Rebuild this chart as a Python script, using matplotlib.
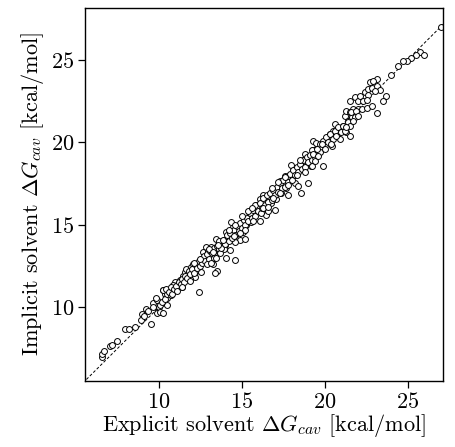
import matplotlib
matplotlib.use("Agg")
import matplotlib.pyplot as plt
import numpy as np

plt.rcParams['font.family'] = 'serif'
plt.rcParams['font.serif'] = ['cmr10', 'DejaVu Serif']
plt.rcParams['mathtext.fontset'] = 'cm'
plt.rcParams['axes.formatter.use_mathtext'] = True

# (explicit, implicit) cavitation free energies in kcal/mol
points_low = [
    (6.55, 6.98), (6.59, 7.17), (6.71, 7.33), (7.05, 7.67), (7.16, 7.71), (7.46, 7.97),
    (7.96, 8.66), (8.21, 8.66), (8.57, 8.81), (8.94, 9.21), (8.99, 9.58), (9.07, 9.44),
    (9.22, 9.88), (9.51, 9.01), (9.33, 9.77), (9.63, 10.27), (9.67, 10.03), (9.91, 10.44),
    (10.03, 10.03), (10.18, 10.24), (9.87, 9.68), (10.23, 11.02), (10.37, 10.78),
    (10.47, 10.53), (10.51, 10.12), (9.83, 10.53),
]
points_mid1 = [
    (10.05, 9.70), (10.25, 9.66), (10.05, 10.11), (10.19, 10.31), (10.35, 10.51),
    (10.51, 10.82), (10.25, 11.02), (10.66, 10.92), (10.45, 11.12), (10.75, 10.72),
    (10.95, 11.52), (10.85, 11.32), (11.16, 11.42), (11.36, 11.22), (11.26, 11.63),
    (11.45, 11.92), (11.56, 12.12), (11.76, 12.01), (11.66, 12.32), (11.95, 12.42),
    (12.16, 11.81), (11.85, 11.71), (12.06, 12.62), (12.35, 12.52), (12.40, 10.95),
    (12.56, 12.91), (12.66, 13.32), (12.85, 13.62), (12.96, 13.42), (13.15, 13.62),
    (12.75, 13.02), (12.96, 13.12), (13.26, 12.62), (13.46, 14.13), (13.52, 12.21),
    (13.36, 13.22), (13.15, 13.02), (12.26, 12.21), (12.56, 12.12),
    (10.6, 10.9), (10.7, 11.2), (10.8, 10.8), (10.9, 11.1), (11.0, 11.3), (11.1, 11.0),
    (11.2, 11.5), (11.3, 11.4), (11.4, 11.7), (11.5, 11.5), (11.6, 11.9), (11.7, 11.8),
    (11.8, 12.2), (11.9, 12.0), (12.0, 12.3), (12.1, 12.1), (11.4, 11.2), (11.9, 11.6),
    (12.2, 12.6), (12.3, 12.4), (12.4, 12.8), (12.5, 12.5), (12.6, 12.7), (12.7, 13.1),
    (12.8, 12.8), (12.9, 13.2), (13.0, 12.9), (13.1, 13.4), (13.2, 13.3), (13.3, 13.6),
    (13.4, 13.1), (13.5, 13.7), (13.6, 13.5), (13.7, 13.9), (13.8, 13.7), (13.9, 14.1),
    (14.0, 13.8), (12.5, 12.9), (12.9, 12.6), (13.3, 13.0), (13.6, 14.0), (13.9, 13.5),
    (12.1, 12.7), (13.0, 13.5),
]
points_mid2 = [
    (13.16, 12.65), (13.36, 12.05), (13.46, 12.96), (13.26, 13.36), (13.66, 13.26),
    (13.76, 13.56), (14.06, 12.96), (14.56, 12.86), (14.27, 13.46), (13.96, 13.86),
    (13.56, 13.76), (13.86, 14.06), (14.16, 14.26), (14.06, 14.56), (14.36, 14.56),
    (14.46, 14.86), (14.66, 14.46), (14.76, 14.76), (14.86, 14.06), (14.56, 13.96),
    (14.96, 15.06), (15.06, 14.56), (15.26, 14.96), (15.36, 15.36), (15.46, 15.76),
    (15.56, 15.16), (15.76, 15.56), (15.86, 16.17), (15.96, 15.86), (16.07, 16.57),
    (16.17, 16.27), (16.27, 16.77), (16.37, 16.07), (16.47, 15.56), (15.16, 14.16),
    (14.36, 15.16),
    (14.1, 14.4), (14.2, 14.0), (14.3, 14.5), (14.4, 14.2), (14.5, 14.7), (14.6, 14.4),
    (14.7, 14.9), (14.8, 14.6), (14.9, 15.1), (15.0, 14.8), (15.1, 15.3), (15.2, 15.0),
    (15.3, 15.4), (15.4, 15.2), (15.5, 15.7), (15.6, 15.4), (15.7, 15.9), (15.8, 15.5),
    (15.9, 16.1), (16.0, 15.8), (14.2, 14.7), (14.6, 15.0), (15.0, 15.5), (15.4, 15.8),
    (15.8, 16.2), (14.5, 14.3), (15.2, 14.7), (15.7, 15.2), (14.9, 14.5), (15.6, 16.0),
]
points_mid3 = [
    (16.08, 15.23), (16.17, 15.73), (16.37, 16.03), (16.58, 15.83), (16.27, 16.33),
    (16.78, 16.33), (16.99, 15.89), (16.68, 16.84), (17.08, 16.53), (17.18, 17.14),
    (17.38, 16.93), (17.49, 17.44), (17.68, 17.24), (17.78, 16.83), (17.99, 17.74),
    (18.19, 17.54), (17.58, 17.95), (18.39, 17.33), (18.59, 16.93), (18.99, 17.50),
    (18.29, 18.14), (18.48, 18.55), (18.68, 18.86), (18.79, 19.26), (18.99, 18.75),
    (19.18, 19.16), (19.29, 19.55), (19.29, 20.05), (19.49, 19.96), (18.08, 18.34),
    (17.78, 17.95), (17.28, 17.64), (17.99, 18.64), (19.18, 18.54),
    (16.1, 16.3), (16.2, 16.0), (16.3, 16.6), (16.4, 16.2), (16.5, 16.8), (16.6, 16.4),
    (16.7, 16.9), (16.8, 16.5), (16.9, 17.1), (17.0, 16.8), (17.1, 17.3), (17.2, 17.0),
    (17.3, 17.5), (17.4, 17.2), (17.5, 17.7), (17.6, 17.3), (17.7, 17.9), (17.8, 17.6),
    (17.9, 18.1), (18.0, 17.7), (16.3, 16.0), (16.8, 17.2), (17.2, 17.6), (17.6, 17.9),
    (16.6, 16.1), (17.3, 16.9), (17.8, 17.4), (16.9, 16.6),
    (18.1, 18.3), (18.2, 18.0), (18.3, 18.5), (18.4, 18.2), (18.5, 18.7), (18.6, 18.4),
    (18.7, 18.9), (18.8, 18.5), (18.9, 19.1), (19.0, 18.8), (19.1, 19.2), (19.2, 18.9),
    (19.3, 19.5), (19.4, 19.1), (19.5, 19.6), (19.6, 19.3), (19.7, 19.9), (19.8, 19.6),
    (19.9, 20.1), (20.0, 19.8), (18.3, 18.0), (18.8, 18.2), (19.2, 19.5), (19.7, 19.4),
    (18.5, 18.9),
]
points_high = [
    (19.21, 18.58), (19.41, 18.89), (19.31, 19.29), (19.60, 19.18), (19.51, 19.59),
    (19.90, 18.54), (19.81, 19.89), (20.00, 19.59), (20.21, 20.08), (20.31, 20.49),
    (20.51, 20.69), (20.71, 20.39), (20.41, 19.79), (20.81, 20.79), (21.02, 20.69),
    (21.12, 21.00), (21.31, 20.59), (21.52, 20.38), (21.21, 21.60), (21.31, 21.90),
    (21.52, 21.81), (21.41, 21.29), (21.71, 22.00), (21.62, 21.50), (22.02, 22.00),
    (22.22, 22.00), (22.52, 22.10), (22.83, 22.20), (21.52, 22.51), (21.81, 22.72),
    (22.02, 22.51), (22.12, 22.81), (22.32, 22.51), (22.42, 23.02), (22.62, 23.22),
    (22.72, 23.63), (20.91, 20.19), (20.61, 21.10),
    (20.1, 20.3), (20.2, 20.0), (20.3, 20.5), (20.5, 20.2), (20.6, 20.7), (20.7, 20.4),
    (20.8, 20.9), (21.0, 20.6), (21.1, 21.0), (21.2, 20.7), (21.4, 21.2), (21.5, 21.0),
    (21.6, 21.8), (21.8, 21.5), (21.9, 21.9), (22.0, 21.6), (20.4, 19.9), (21.3, 20.9),
    (21.7, 21.3),
    (27.03, 26.99), (25.73, 25.49), (25.99, 25.28), (25.53, 25.28), (25.23, 25.09),
    (24.93, 24.94), (24.73, 24.89), (24.42, 24.63), (23.98, 24.09), (23.12, 23.83),
    (22.92, 23.69), (22.82, 23.29), (23.12, 23.38), (23.32, 23.18), (23.02, 23.08),
    (22.62, 22.88), (22.52, 22.58), (23.72, 22.81), (23.52, 22.51), (23.12, 21.77),
]

all_pts = np.array(points_low + points_mid1 + points_mid2 + points_mid3 + points_high)
explicit = all_pts[:, 0]
implicit = all_pts[:, 1]

x_lim = (5.54, 27.13)
y_lim = (5.53, 28.13)
ticks = [10, 15, 20, 25]

fig = plt.figure(figsize=(4.56, 4.47), dpi=100)
ax = fig.add_axes([85/456, 66/447, 358/456, 373/447])

ax.plot([5.0, 30], [5.0, 30], linestyle='--', color='black', linewidth=0.7,
        dashes=(3, 2), zorder=1)
ax.scatter(explicit, implicit, s=18, facecolors='white', edgecolors='black',
           linewidths=0.7, zorder=2)

ax.set_xlim(*x_lim)
ax.set_ylim(*y_lim)
ax.set_xticks(ticks)
ax.set_yticks(ticks)
ax.tick_params(direction='out', length=5, width=0.9, labelsize=16, pad=3)
for sp in ax.spines.values():
    sp.set_linewidth(1.0)

ax.set_xlabel(r'Explicit solvent $\Delta G_{cav}$ [kcal/mol]', fontsize=16, labelpad=0)
ax.set_ylabel(r'Implicit solvent $\Delta G_{cav}$ [kcal/mol]', fontsize=16, labelpad=3)

fig.savefig('out.png', dpi=100)
